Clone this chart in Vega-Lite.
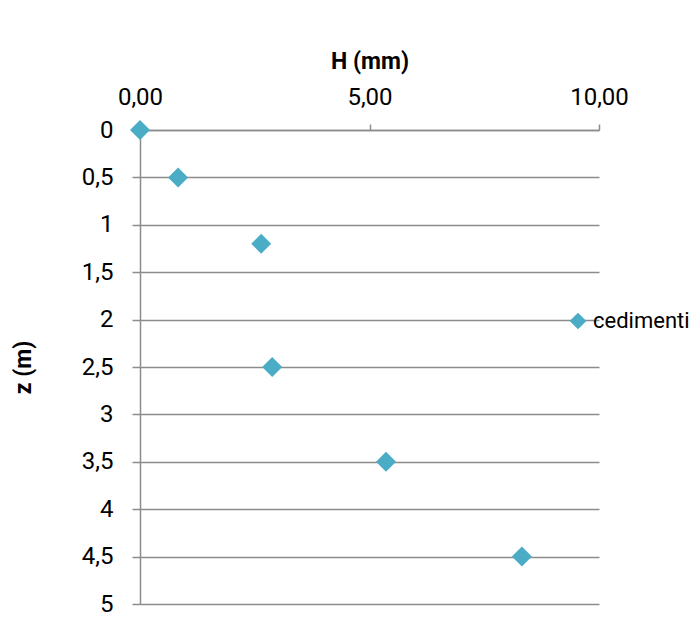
{
  "$schema": "https://vega.github.io/schema/vega-lite/v6.json",
  "width": 459,
  "height": 474,
  "autosize": "none",
  "padding": {"left": 140, "top": 130, "right": 99, "bottom": 28},
  "background": "white",
  "config": {
    "view": {"stroke": null},
    "font": "Roboto"
  },
  "data": {
    "values": [
      {"H": 0, "z": 0, "serie": "cedimenti"},
      {"H": 0.83, "z": 0.5, "serie": "cedimenti"},
      {"H": 2.64, "z": 1.2, "serie": "cedimenti"},
      {"H": 2.88, "z": 2.5, "serie": "cedimenti"},
      {"H": 5.36, "z": 3.5, "serie": "cedimenti"},
      {"H": 8.32, "z": 4.5, "serie": "cedimenti"}
    ]
  },
  "mark": {"type": "point", "shape": "diamond", "filled": true, "size": 400, "opacity": 1, "clip": false},
  "encoding": {
    "x": {
      "field": "H", "type": "quantitative",
      "scale": {"domain": [0, 10], "nice": false},
      "axis": {
        "orient": "top", "values": [0, 5, 10], "grid": false,
        "title": "H (mm)", "titleFontSize": 23, "titleFontWeight": "bold", "titleColor": "black",
        "titlePadding": 12,
        "labelExpr": "replace(format(datum.value, '.2f'), '.', ',')",
        "labelFontSize": 24, "labelColor": "black", "labelPadding": 15, "labelFlush": false,
        "domainColor": "#8c8c8c", "domainWidth": 1.5,
        "tickColor": "#8c8c8c", "tickSize": 6, "tickWidth": 1.5
      }
    },
    "y": {
      "field": "z", "type": "quantitative",
      "scale": {"domain": [0, 5], "nice": false, "reverse": true},
      "axis": {
        "values": [0, 0.5, 1, 1.5, 2, 2.5, 3, 3.5, 4, 4.5, 5],
        "grid": true, "gridColor": "#8c8c8c", "gridWidth": 1.5,
        "title": "z (m)", "titleFontSize": 23, "titleFontWeight": "bold", "titleColor": "black",
        "titlePadding": 46,
        "labelExpr": "replace(toString(datum.value), '.', ',')",
        "labelFontSize": 24, "labelColor": "black", "labelPadding": 19, "labelFlush": false,
        "domainColor": "#8c8c8c", "domainWidth": 1.5,
        "tickColor": "#8c8c8c", "tickSize": 8, "tickWidth": 1.5
      }
    },
    "color": {
      "field": "serie", "type": "nominal",
      "scale": {"range": ["#4BACC6"]},
      "legend": {
        "title": null, "orient": "none", "legendX": 427, "legendY": 180,
        "symbolType": "diamond", "symbolSize": 280, "labelFontSize": 22, "labelColor": "black",
        "labelOffset": 4, "symbolOpacity": 1
      }
    }
  }
}
